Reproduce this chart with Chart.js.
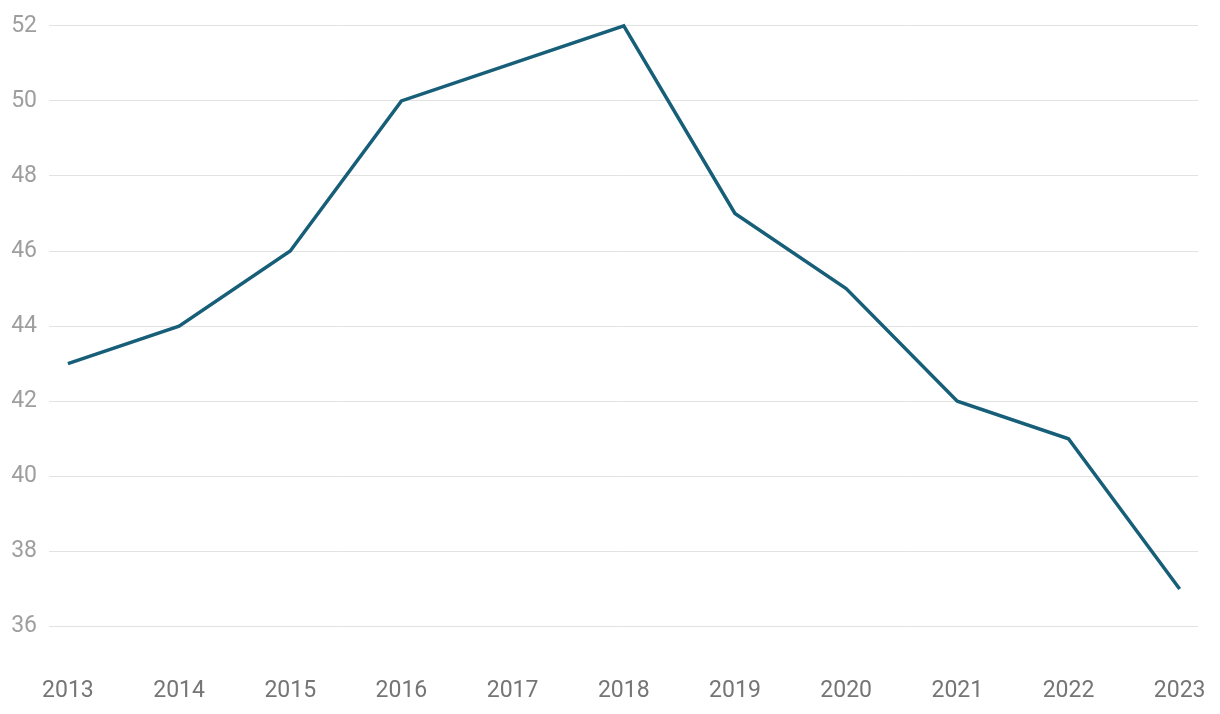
<!DOCTYPE html>
<html>
<head>
<meta charset="utf-8">
<script src="https://cdn.jsdelivr.net/npm/chart.js@4/dist/chart.umd.min.js"></script>
<style>
html,body{margin:0;padding:0;background:#fff;}
#wrap{width:1220px;height:714px;position:relative;}
</style>
</head>
<body>
<div id="wrap"><canvas id="c" width="1220" height="714"></canvas></div>
<script>
const years = [2013, 2014, 2015, 2016, 2017, 2018, 2019, 2020, 2021, 2022, 2023];
const values = [43, 44, 46, 50, 51, 52, 47, 45, 42, 41, 37];
const yTicks = [36, 38, 40, 42, 44, 46, 48, 50, 52];

new Chart(document.getElementById('c'), {
  type: 'line',
  data: {
    datasets: [{
      data: years.map((y, i) => ({x: y, y: values[i]})),
      borderColor: '#175f78',
      borderWidth: 3.5,
      pointRadius: 0,
      tension: 0,
      fill: false,
      clip: false
    }]
  },
  options: {
    responsive: false,
    animation: false,
    devicePixelRatio: 1,
    layout: {padding: {top: 23, right: 22, left: 0, bottom: 0}},
    plugins: {legend: {display: false}, tooltip: {enabled: false}},
    scales: {
      x: {
        type: 'linear',
        min: 2012.83,
        max: 2023.165,
        afterBuildTicks: s => { s.ticks = years.map(v => ({value: v})); },
        afterFit: s => { s.height = 50; },
        grid: {display: false, drawTicks: false},
        border: {display: false},
        ticks: {
          padding: 13,
          color: '#757575',
          font: {family: 'Roboto', size: 23},
          callback: v => String(v),
          maxRotation: 0,
          autoSkip: false
        }
      },
      y: {
        min: 35,
        max: 52,
        afterBuildTicks: s => { s.ticks = yTicks.map(v => ({value: v})); },
        afterFit: s => { s.width = 49; },
        grid: {color: '#e2e2e2', lineWidth: 1, drawTicks: false},
        border: {display: false},
        ticks: {
          padding: 12,
          color: '#9e9e9e',
          font: {family: 'Roboto', size: 23}
        }
      }
    }
  }
});
</script>
</body>
</html>
